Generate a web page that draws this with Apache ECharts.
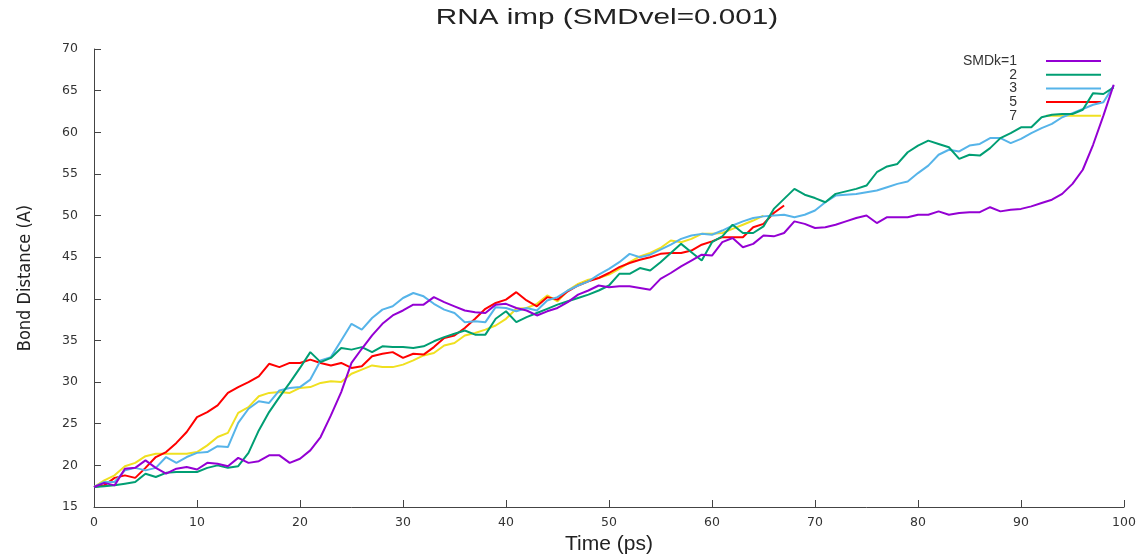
<!DOCTYPE html>
<html>
<head>
<meta charset="utf-8">
<script src="https://cdn.jsdelivr.net/npm/echarts@6/dist/echarts.min.js"></script>
<style>
  html, body { margin: 0; padding: 0; background: #fff; }
  #chart { width: 1138px; height: 554px; }
</style>
</head>
<body>
<div id="chart"></div>
<script>
// Bond distance (A) sampled once per ps for each SMD spring constant
const seriesNames = ['SMDk=1', '2', '3', '5', '7'];
const seriesColors = ['#9400d3', '#009e73', '#56b4e9', '#ff0000', '#f0e020'];

const k1 = [17.4, 17.9, 17.6, 19.6, 19.7, 20.6, 19.7, 19.0, 19.6, 19.8,
  19.5, 20.3, 20.2, 19.9, 20.9, 20.3, 20.5, 21.2, 21.2, 20.3,
  20.8, 21.8, 23.4, 26.0, 28.8, 32.3, 34.0, 35.6, 37.0, 38.0,
  38.6, 39.3, 39.3, 40.2, 39.6, 39.1, 38.6, 38.4, 38.3, 39.3,
  39.4, 38.9, 38.6, 38.0, 38.5, 38.9, 39.6, 40.5, 41.0, 41.6,
  41.4, 41.5, 41.5, 41.3, 41.1, 42.4, 43.1, 43.9, 44.6, 45.3,
  45.2, 46.8, 47.3, 46.2, 46.6, 47.6, 47.5, 47.9, 49.3, 49.0,
  48.5, 48.6, 48.9, 49.3, 49.7, 50.0, 49.1, 49.8, 49.8, 49.8,
  50.1, 50.1, 50.5, 50.1, 50.3, 50.4, 50.4, 51.0, 50.5, 50.7,
  50.8, 51.1, 51.5, 51.9, 52.6, 53.8, 55.5, 58.5, 62.0, 65.7];

const k2 = [17.4, 17.5, 17.6, 17.8, 18.0, 19.0, 18.6, 19.1, 19.2, 19.2,
  19.2, 19.7, 20.0, 19.7, 19.9, 21.5, 24.2, 26.4, 28.2, 29.9,
  31.7, 33.6, 32.4, 32.9, 34.1, 33.9, 34.2, 33.6, 34.3, 34.2,
  34.2, 34.1, 34.3, 34.9, 35.4, 35.8, 36.2, 35.7, 35.7, 37.6,
  38.5, 37.2, 37.8, 38.3, 38.8, 39.3, 39.7, 40.1, 40.5, 41.0,
  41.6, 43.0, 43.0, 43.7, 43.4, 44.4, 45.5, 46.6, 45.6, 44.6,
  46.8, 47.5, 48.9, 47.9, 47.9, 48.7, 50.8, 52.0, 53.2, 52.5,
  52.1, 51.6, 52.6, 52.9, 53.2, 53.6, 55.2, 55.9, 56.2, 57.6,
  58.4, 59.0, 58.6, 58.2, 56.8, 57.3, 57.2, 58.1, 59.3, 59.9,
  60.6, 60.6, 61.8, 62.1, 62.2, 62.2, 62.7, 64.7, 64.6, 65.4];

const k3 = [17.4, 18.0, 18.0, 19.4, 19.7, 19.4, 19.7, 21.0, 20.3, 21.0,
  21.5, 21.6, 22.3, 22.2, 25.1, 26.8, 27.7, 27.5, 29.0, 29.3,
  29.4, 30.3, 32.6, 33.0, 35.0, 37.0, 36.3, 37.7, 38.7, 39.1,
  40.1, 40.7, 40.3, 39.4, 38.7, 38.3, 37.2, 37.3, 37.2, 39.0,
  38.9, 38.5, 38.9, 38.6, 39.8, 40.2, 41.0, 41.6, 42.1, 42.9,
  43.6, 44.4, 45.4, 45.0, 45.3, 45.9, 46.5, 47.2, 47.6, 47.8,
  47.7, 48.2, 48.8, 49.3, 49.7, 49.9, 50.0, 50.1, 49.8, 50.1,
  50.6, 51.6, 52.4, 52.5, 52.6, 52.8, 53.0, 53.4, 53.8, 54.1,
  55.1, 56.0, 57.3, 57.9, 57.7, 58.4, 58.6, 59.3, 59.3, 58.7,
  59.2, 59.9, 60.5, 61.0, 61.8, 62.3, 62.8, 63.3, 63.6, 65.6];

const k5 = [17.4, 17.6, 18.5, 18.8, 18.5, 19.7, 21.0, 21.6, 22.7, 24.0,
  25.8, 26.4, 27.2, 28.7, 29.4, 30.0, 30.7, 32.2, 31.8, 32.3,
  32.3, 32.7, 32.3, 32.0, 32.3, 31.7, 31.9, 33.1, 33.4, 33.6,
  32.9, 33.4, 33.3, 34.2, 35.3, 35.6, 36.5, 37.6, 38.8, 39.5,
  39.9, 40.8, 39.8, 39.1, 40.2, 39.9, 40.9, 41.6, 42.1, 42.5,
  43.1, 43.8, 44.3, 44.7, 45.0, 45.4, 45.5, 45.5, 45.8, 46.5,
  46.9, 47.4, 47.4, 47.4, 48.6, 49.0, 50.3, 51.2];

const k7 = [17.4, 18.2, 18.8, 19.9, 20.3, 21.1, 21.4, 21.4, 21.4, 21.4,
  21.6, 22.4, 23.4, 23.9, 26.3, 27.0, 28.3, 28.7, 28.8, 28.7,
  29.3, 29.4, 29.9, 30.1, 30.0, 31.0, 31.5, 32.0, 31.8, 31.8,
  32.1, 32.6, 33.2, 33.5, 34.4, 34.7, 35.6, 35.9, 36.3, 36.8,
  37.6, 38.8, 38.9, 39.4, 40.4, 39.7, 41.0, 41.8, 42.3, 42.5,
  42.9, 43.6, 44.4, 45.1, 45.5, 46.1, 47.0, 46.8, 47.2, 47.8,
  47.8, 47.9, 48.4, 48.9, 49.4, 50.0];

const seriesValues = [k1, k2, k3, k5, k7];

// time in ps is the sample index
const toPoints = vals => vals.map((v, t) => [t, v]);

// one legend per entry so the labels sit right-aligned against their line keys
const legends = seriesNames.map((name, i) => ({
  data: [name],
  orient: 'vertical',
  right: 32,
  top: 49 + i * 13.7,
  align: 'right',
  icon: 'rect',
  itemWidth: 55,
  itemHeight: 2,
  itemGap: 0,
  selectedMode: false,
  textStyle: {
    fontFamily: 'Liberation Sans',
    fontSize: 14,
    color: '#333',
    padding: [0, 24, 0, 0]
  }
}));

const chart = echarts.init(document.getElementById('chart'), null, { renderer: 'canvas' });
chart.setOption({
  animation: false,
  backgroundColor: '#fff',
  graphic: [{
    type: 'text',
    x: 607,
    y: 18,
    scaleX: 1.35,
    originX: 0,
    originY: 0,
    style: {
      text: 'RNA imp (SMDvel=0.001)',
      fontFamily: 'Liberation Sans',
      fontSize: 22,
      fill: '#222',
      align: 'center',
      verticalAlign: 'middle'
    }
  }],
  legend: legends,
  grid: { left: 94, right: 14, top: 49, bottom: 47, outerBoundsMode: 'none' },
  xAxis: {
    type: 'value',
    min: 0, max: 100, interval: 10,
    name: 'Time (ps)',
    nameLocation: 'middle',
    nameGap: 21,
    nameTextStyle: { fontFamily: 'Liberation Sans', fontSize: 21, color: '#222' },
    axisLine: { lineStyle: { color: '#444', width: 1 } },
    axisTick: { inside: true, length: 7, lineStyle: { color: '#444' } },
    axisLabel: { fontFamily: 'DejaVu Sans', fontSize: 12.5, color: '#333', margin: 9 },
    splitLine: { show: false }
  },
  yAxis: {
    type: 'value',
    min: 15, max: 70, interval: 5,
    name: 'Bond Distance (A)',
    nameLocation: 'middle',
    nameGap: 60,
    nameTextStyle: { fontFamily: 'Liberation Sans Narrow, DejaVu Sans Condensed', fontSize: 18, color: '#222' },
    axisLine: { show: true, lineStyle: { color: '#444', width: 1 } },
    axisTick: { show: true, inside: true, length: 7, lineStyle: { color: '#444' } },
    axisLabel: { fontFamily: 'DejaVu Sans', fontSize: 12.5, color: '#333', margin: 16 },
    splitLine: { show: false }
  },
  series: seriesNames.map((name, i) => ({
    name: name,
    type: 'line',
    data: toPoints(seriesValues[i]),
    symbol: 'none',
    color: seriesColors[i],
    lineStyle: { width: 2, color: seriesColors[i] },
    z: 10 - i
  }))
});
</script>
</body>
</html>
